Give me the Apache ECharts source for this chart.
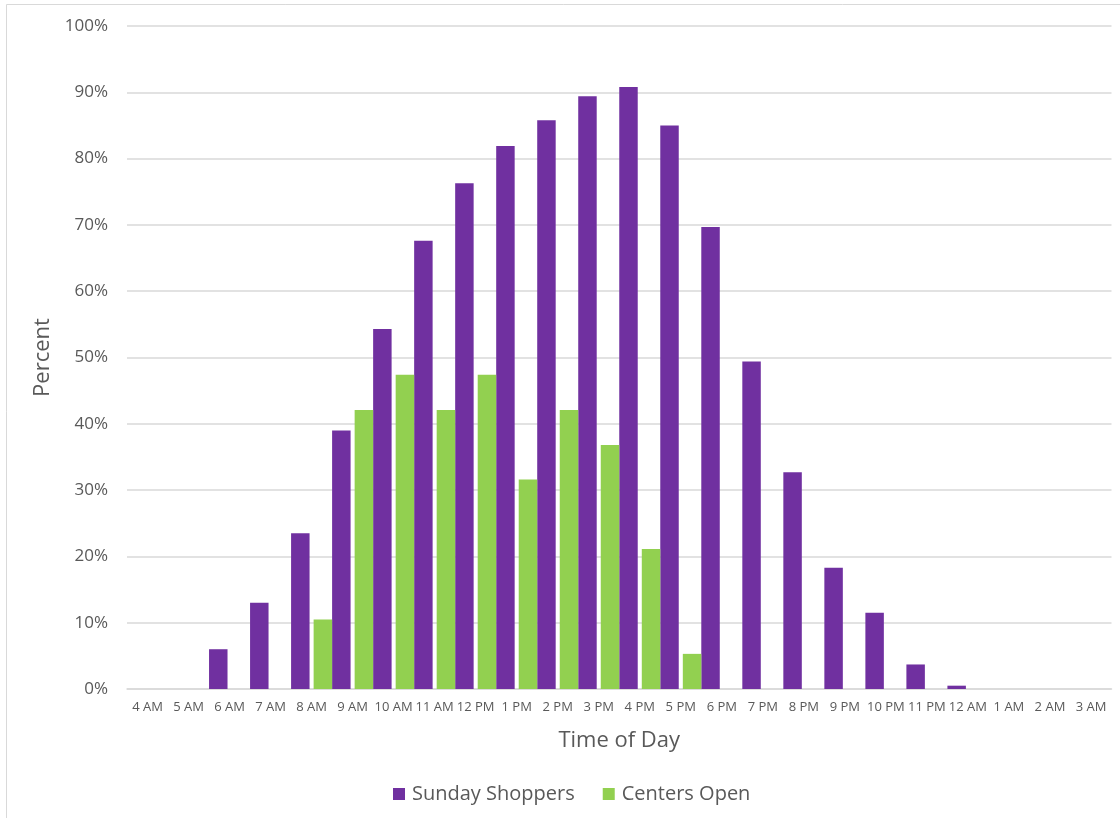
<!DOCTYPE html>
<html>
<head>
<meta charset="utf-8">
<script src="https://cdn.jsdelivr.net/npm/echarts@6/dist/echarts.min.js"></script>
<style>
  html, body { margin: 0; padding: 0; background: #ffffff; }
  #chart { width: 1120px; height: 818px; }
</style>
</head>
<body>
<div id="chart"></div>
<script>
const categories = ['4 AM','5 AM','6 AM','7 AM','8 AM','9 AM','10 AM','11 AM','12 PM','1 PM','2 PM','3 PM','4 PM','5 PM','6 PM','7 PM','8 PM','9 PM','10 PM','11 PM','12 AM','1 AM','2 AM','3 AM'];
const sundayShoppers = [0,0,6.0,13.0,23.5,39.0,54.3,67.6,76.3,81.9,85.8,89.4,90.8,85.0,69.7,49.4,32.7,18.3,11.5,3.7,0.5,0,0,0];
const centersOpen = [0,0,0,0,10.5,42.1,47.4,42.1,47.4,31.6,42.1,36.8,21.1,5.3,0,0,0,0,0,0,0,0,0,0];
const yTicks = { min: 0, max: 100, interval: 10 };

const FONT = '"Open Sans", sans-serif';
const TXT = '#595959';

const chart = echarts.init(document.getElementById('chart'), null, { renderer: 'canvas' });
chart.setOption({
  animation: false,
  backgroundColor: '#ffffff',
  textStyle: { fontFamily: FONT, color: TXT },
  graphic: [{
    type: 'rect',
    shape: { x: 6.5, y: 4.5, width: 1200, height: 900 },
    style: { fill: 'none', stroke: '#d9d9d9', lineWidth: 1 },
    silent: true
  }],
  grid: { left: 127, right: 8.5, top: 26, bottom: 129, containLabel: false },
  legend: {
    left: 388, top: 779,
    itemWidth: 12, itemHeight: 12, itemGap: 28,
    icon: 'rect',
    textStyle: { fontFamily: FONT, fontSize: 20, color: TXT, lineHeight: 20, padding: [0, 0, 0, 2] },
    data: ['Sunday Shoppers', 'Centers Open']
  },
  xAxis: {
    type: 'category',
    data: categories,
    name: 'Time of Day',
    nameLocation: 'middle',
    nameGap: 41,
    nameTextStyle: { fontFamily: FONT, fontSize: 22, color: TXT },
    axisLine: { lineStyle: { color: '#d9d9d9', width: 1.5 } },
    axisTick: { show: false },
    axisLabel: { interval: 0, fontFamily: FONT, fontSize: 13, color: TXT, margin: 12 }
  },
  yAxis: {
    type: 'value',
    min: yTicks.min, max: yTicks.max, interval: yTicks.interval,
    name: 'Percent',
    nameLocation: 'middle',
    nameGap: 66,
    nameRotate: 90,
    nameTextStyle: { fontFamily: FONT, fontSize: 22, color: TXT },
    axisLine: { show: false },
    axisTick: { show: false },
    axisLabel: { formatter: '{value}%', fontFamily: FONT, fontSize: 17, color: TXT, margin: 19 },
    splitLine: { lineStyle: { color: '#d9d9d9', width: 1.5 } }
  },
  series: [
    {
      name: 'Sunday Shoppers',
      type: 'bar',
      data: sundayShoppers,
      barCategoryGap: '0%',
      barGap: '22%',
      itemStyle: { color: '#7030a0' }
    },
    {
      name: 'Centers Open',
      type: 'bar',
      data: centersOpen,
      barCategoryGap: '0%',
      barGap: '22%',
      itemStyle: { color: '#92d050' }
    }
  ]
});
</script>
</body>
</html>
